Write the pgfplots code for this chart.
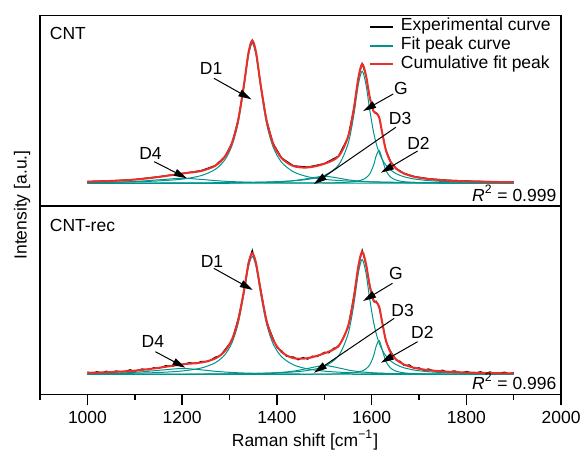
\documentclass[border=0pt]{standalone}
\usepackage{fontspec}
\setmainfont{Liberation Sans}
\usepackage{pgfplots}
\usepackage{pgfplotstable}
\pgfplotsset{compat=1.18}
\usetikzlibrary{arrows.meta}

\definecolor{fitteal}{RGB}{0,148,140}
\definecolor{cumred}{RGB}{236,45,40}

% fitted components, top panel (CNT)
\pgfplotstableread{
x d1 g d2 d3 d4 fit
1000 0.78 0.16 0.01 0.07 0.62 1.64
1050 1.06 0.19 0.01 0.09 1.00 2.35
1100 1.52 0.24 0.02 0.11 1.80 3.69
1150 2.37 0.29 0.02 0.14 3.46 6.28
1200 4.19 0.37 0.03 0.19 5.00 9.78
1240 7.67 0.47 0.03 0.25 3.89 12.31
1270 14.00 0.56 0.04 0.32 2.67 17.59
1290 23.42 0.64 0.04 0.38 2.05 26.53
1305 37.48 0.71 0.05 0.43 1.69 40.36
1318 60.06 0.78 0.05 0.49 1.44 62.82
1330 94.64 0.86 0.06 0.56 1.25 97.37
1340 127.89 0.93 0.06 0.62 1.12 130.62
1348 140.00 1.00 0.07 0.68 1.02 142.77
1356 127.89 1.07 0.07 0.75 0.94 130.72
1366 94.64 1.17 0.08 0.86 0.85 97.60
1378 60.06 1.31 0.08 1.01 0.75 63.21
1392 36.23 1.51 0.10 1.24 0.66 39.74
1410 20.94 1.84 0.11 1.65 0.57 25.11
1435 11.48 2.52 0.15 2.60 0.46 17.21
1465 6.59 3.95 0.21 4.70 0.37 15.82
1500 3.98 7.87 0.36 7.00 0.29 19.50
1530 2.80 18.17 0.64 5.15 0.25 27.01
1550 2.28 39.17 1.09 3.50 0.22 46.26
1562 2.04 67.09 1.61 2.76 0.21 73.71
1572 1.86 98.90 2.39 2.28 0.20 105.63
1580 1.74 112.00 3.47 1.97 0.19 119.37
1588 1.62 98.90 5.45 1.71 0.18 107.86
1596 1.52 73.25 9.41 1.49 0.17 85.84
1604 1.43 51.14 17.94 1.31 0.17 71.99
1610 1.37 39.17 28.12 1.20 0.16 70.02
1616 1.31 30.45 32.77 1.10 0.16 65.79
1622 1.25 24.11 24.62 1.01 0.15 51.14
1630 1.18 18.17 12.87 0.90 0.15 33.27
1640 1.10 13.27 6.18 0.79 0.14 21.48
1652 1.02 9.56 3.14 0.68 0.13 14.53
1668 0.92 6.59 1.61 0.57 0.13 9.82
1690 0.81 4.31 0.82 0.45 0.11 6.50
1720 0.68 2.70 0.43 0.34 0.10 4.25
1760 0.56 1.65 0.22 0.25 0.09 2.77
1800 0.46 1.11 0.14 0.19 0.08 1.98
1850 0.38 0.74 0.09 0.14 0.07 1.42
1900 0.31 0.53 0.06 0.11 0.06 1.07
}\cnt

\pgfplotstableread{
x y
1000 1.9
1050 2.6
1100 3.9
1150 6.7
1200 9.9
1240 12.8
1270 17.9
1290 26.9
1305 40.2
1318 63.3
1330 97.0
1340 131.0
1348 143.2
1356 130.4
1366 98.0
1378 63.6
1392 40.1
1410 25.5
1435 17.6
1465 16.3
1500 19.8
1530 27.3
1550 46.0
1562 74.0
1572 105.3
1580 119.6
1588 107.5
1596 86.2
1604 72.3
1610 70.3
1616 66.1
1622 51.5
1630 33.6
1640 21.9
1652 14.9
1668 10.2
1690 6.9
1720 4.7
1760 3.2
1800 2.4
1850 1.8
1900 1.4
}\cntexp

% fitted components, bottom panel (CNT-rec)
\pgfplotstableread{
x d1 g d2 d3 d4 fit
1000 0.65 0.17 0.01 0.09 0.74 1.66
1050 0.89 0.20 0.02 0.11 1.20 2.43
1100 1.28 0.24 0.02 0.14 2.16 3.84
1150 2.00 0.30 0.02 0.18 4.15 6.65
1200 3.53 0.38 0.03 0.24 6.00 10.18
1240 6.47 0.48 0.03 0.32 4.67 11.97
1270 11.80 0.58 0.04 0.41 3.21 16.04
1290 19.74 0.66 0.05 0.48 2.46 23.39
1305 31.59 0.73 0.05 0.56 2.03 34.96
1318 50.62 0.81 0.06 0.63 1.73 53.85
1330 79.77 0.88 0.06 0.72 1.50 82.93
1340 107.79 0.96 0.06 0.80 1.34 110.95
1348 118.00 1.02 0.07 0.88 1.23 121.20
1356 107.79 1.10 0.07 0.97 1.13 111.06
1366 79.77 1.20 0.08 1.10 1.02 83.17
1378 50.62 1.35 0.09 1.29 0.90 54.25
1392 30.54 1.55 0.10 1.59 0.79 34.58
1410 17.65 1.89 0.12 2.12 0.68 22.46
1435 9.68 2.59 0.15 3.35 0.55 16.32
1465 5.56 4.06 0.22 6.04 0.45 16.33
1500 3.35 8.08 0.37 9.00 0.35 21.15
1530 2.36 18.65 0.66 6.62 0.29 28.58
1550 1.92 40.22 1.12 4.50 0.26 48.02
1562 1.72 68.89 1.66 3.55 0.25 76.07
1572 1.57 101.50 2.46 2.93 0.23 108.69
1580 1.46 115.00 3.58 2.53 0.22 122.79
1588 1.37 101.50 5.61 2.20 0.22 110.90
1596 1.28 75.21 9.69 1.92 0.21 88.31
1604 1.20 52.51 18.48 1.69 0.20 74.08
1610 1.15 40.22 28.97 1.54 0.19 72.07
1616 1.10 31.27 33.77 1.41 0.19 67.74
1622 1.05 24.76 25.36 1.29 0.18 52.64
1630 0.99 18.65 13.26 1.16 0.18 34.24
1640 0.93 13.63 6.37 1.02 0.17 22.12
1652 0.86 9.82 3.24 0.88 0.16 14.96
1668 0.77 6.76 1.66 0.73 0.15 10.07
1690 0.68 4.43 0.85 0.58 0.14 6.68
1720 0.57 2.77 0.44 0.44 0.12 4.34
1760 0.47 1.69 0.23 0.32 0.11 2.82
1800 0.39 1.14 0.14 0.24 0.09 2.00
1850 0.32 0.76 0.09 0.18 0.08 1.43
1900 0.26 0.54 0.06 0.14 0.07 1.07
}\cntrec

\pgfplotstableread{
x y
1000 2.6
1010 1.2
1020 2.9
1030 1.5
1040 3.4
1050 2.0
1060 3.6
1075 2.6
1090 4.8
1100 3.3
1115 5.6
1130 4.6
1140 6.9
1150 6.0
1165 8.9
1180 8.0
1190 10.8
1200 9.6
1215 11.9
1230 10.8
1240 13.2
1255 12.8
1270 17.5
1280 18.6
1290 24.8
1305 34.0
1318 55.5
1330 81.5
1340 112.5
1348 124.5
1356 110.0
1366 85.0
1378 53.0
1392 36.2
1400 26.8
1410 23.8
1420 18.2
1435 17.6
1445 14.6
1455 17.1
1465 15.3
1475 18.4
1485 17.8
1500 22.3
1510 21.6
1520 26.4
1530 27.6
1540 37.0
1550 46.8
1562 77.5
1572 107.0
1580 124.5
1588 109.2
1596 90.0
1604 72.8
1610 73.4
1616 66.3
1622 54.0
1630 33.0
1640 23.4
1652 14.0
1660 13.4
1668 9.2
1680 9.6
1690 5.9
1700 6.8
1710 4.2
1720 5.6
1735 3.0
1750 4.4
1760 2.3
1775 3.7
1790 1.6
1800 3.1
1815 1.3
1830 2.8
1840 1.1
1850 2.6
1865 0.8
1880 2.4
1890 0.9
1900 2.0
}\cntrecexp

\pgfplotsset{
  raman/.style={
    scale only axis,
    width=260.5pt,
    xmin=900, xmax=2000,
    ytick=\empty,
    axis line style={line width=0.75pt},
    every tick/.style={black, line width=0.75pt},
    tick align=outside,
    xtick pos=bottom,
    major tick length=5.5pt,
    minor tick length=3pt,
    /pgf/number format/assume math mode=true,
    /pgf/number format/1000 sep={},
  },
  expline/.style={black, line width=0.5pt},
  fitline/.style={fitteal, line width=0.5pt, smooth},
  sumline/.style={cumred, line width=1pt, smooth},
}
\tikzset{callout/.style={-{Triangle[length=6.5pt,width=3.6pt]}, line width=0.5pt, black}}

\begin{document}
\fontsize{8.75}{10.5}\selectfont
\begin{tikzpicture}
\begin{axis}[raman,
  at={(20.05pt,124.5pt)}, anchor=south west,
  height=95.15pt,
  ymin=-22.7, ymax=167.6,
  xtick=\empty,
  legend style={draw=none, fill=none, at={(rel axis cs:1,1)}, anchor=north east,
    xshift=-5pt, yshift=-0.8pt, inner sep=0pt, column sep=3.3pt,
    nodes={inner sep=0pt, text height=6.5pt, text depth=2.85pt}},
  legend cell align=left,
  legend image code/.code={\draw[#1, line width=1pt] (0pt,0pt) -- (11.5pt,0pt);},
]
\addplot[expline] table[x=x,y=y] {\cntexp};
\addplot[fitline] table[x=x,y=d1] {\cnt};
\addplot[fitline, forget plot] table[x=x,y=g] {\cnt};
\addplot[fitline, forget plot] table[x=x,y=d2] {\cnt};
\addplot[fitline, forget plot] table[x=x,y=d3] {\cnt};
\addplot[fitline, forget plot] table[x=x,y=d4] {\cnt};
\addplot[sumline] table[x=x,y=fit] {\cnt};
\legend{Experimental curve, Fit peak curve, Cumulative fit peak}

\node[anchor=base west, inner sep=0pt] at ([xshift=4.7pt, yshift=-12.15pt] rel axis cs:0,1) {CNT};
\node[anchor=base east, inner sep=0pt] at ([xshift=-2.2pt, yshift=2.4pt] rel axis cs:1,0) {\textit{R}\textsuperscript{2} = 0.999};

\node at (axis cs:1261,115) {D1};
\draw[callout] (axis cs:1267,105) -- (axis cs:1346,84);
\node at (axis cs:1133,30) {D4};
\draw[callout] (axis cs:1141,21.6) -- (axis cs:1210,5);
\node at (axis cs:1662,95) {G};
\draw[callout] (axis cs:1645.5,89.3) -- (axis cs:1582,72.3);
\node at (axis cs:1660,64.5) {D3};
\draw[callout] (axis cs:1651,56) -- (axis cs:1478,-0.7);
\node at (axis cs:1699,39.6) {D2};
\draw[callout] (axis cs:1697,32.3) -- (axis cs:1619.5,10.6);
\end{axis}

\begin{axis}[raman,
  at={(20.05pt,30.35pt)}, anchor=south west,
  height=94.15pt,
  ymin=-19.8, ymax=168.5,
  xtick={1000,1200,...,2000},
  minor xtick={900,1100,...,1900},
]
\addplot[expline] table[x=x,y=y] {\cntrecexp};
\addplot[fitline] table[x=x,y=d1] {\cntrec};
\addplot[fitline] table[x=x,y=g] {\cntrec};
\addplot[fitline] table[x=x,y=d2] {\cntrec};
\addplot[fitline] table[x=x,y=d3] {\cntrec};
\addplot[fitline] table[x=x,y=d4] {\cntrec};
\addplot[sumline] table[x=x,y=fit] {\cntrec};

\node[anchor=base west, inner sep=0pt] at ([xshift=4.7pt, yshift=-13pt] rel axis cs:0,1) {CNT-rec};
\node[anchor=base east, inner sep=0pt] at ([xshift=-2.2pt, yshift=2.4pt] rel axis cs:1,0) {\textit{R}\textsuperscript{2} = 0.996};

\node at (axis cs:1263,113.5) {D1};
\draw[callout] (axis cs:1266.7,106.2) -- (axis cs:1349,84.5);
\node at (axis cs:1138,32.8) {D4};
\draw[callout] (axis cs:1143.3,22.8) -- (axis cs:1206.8,6.8);
\node at (axis cs:1651,101.2) {G};
\draw[callout] (axis cs:1644,91.2) -- (axis cs:1582,73.5);
\node at (axis cs:1665.4,63.7) {D3};
\draw[callout] (axis cs:1647.6,56.2) -- (axis cs:1478.3,1.8);
\node at (axis cs:1707,42) {D2};
\draw[callout] (axis cs:1697,32.8) -- (axis cs:1619.5,11.8);
\end{axis}

\node[rotate=90] at (11pt,125pt) {Intensity [a.u.]};
\node at (152.5pt,7.5pt) {Raman shift [cm\textsuperscript{−1}]};

\pgfresetboundingbox
\path[use as bounding box] (0,0) rectangle (291.5pt,227.5pt);
\end{tikzpicture}
\end{document}
